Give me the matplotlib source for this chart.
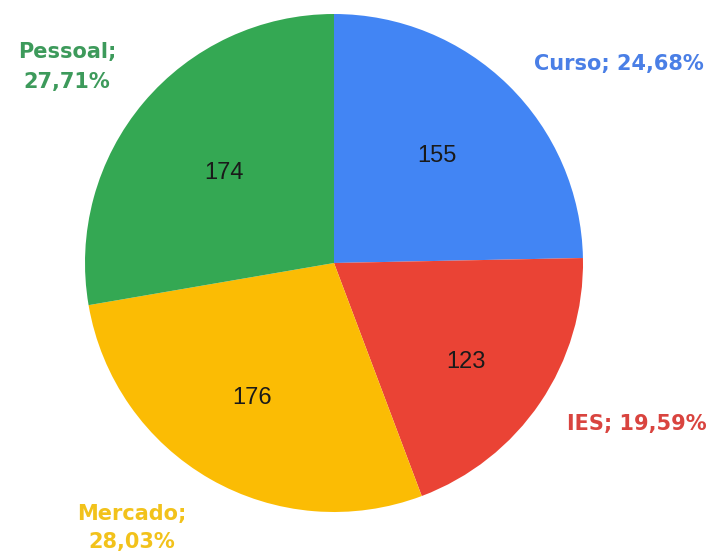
import matplotlib.pyplot as plt

# responses per category
categories = ["Curso", "IES", "Mercado", "Pessoal"]
counts = [155, 123, 176, 174]
percent_labels = ["24,68%", "19,59%", "28,03%", "27,71%"]
slice_colors = ["#4285F4", "#EA4335", "#FBBC04", "#34A853"]
text_colors = ["#4a7fe6", "#d9443f", "#f2c21b", "#3d9a5b"]
# where the count sits inside each slice (pie radius = 1)
count_pos = [(0.414, 0.430), (0.530, -0.398), (-0.329, -0.542), (-0.442, 0.361)]

W, H = 711, 556
fig = plt.figure(figsize=(W / 100, H / 100), dpi=100)

# pie centre and radius in pixels
cx, cy, r = 334, 263, 249
ax = fig.add_axes([(cx - r) / W, (H - cy - r) / H, 2 * r / W, 2 * r / H])

wedges, _ = ax.pie(counts, colors=slice_colors, startangle=90, counterclock=False,
                   wedgeprops=dict(linewidth=0))
for c, (x, y) in zip(counts, count_pos):
    ax.text(x, y, str(c), fontsize=17, color="#1a1a1a", family="Liberation Sans",
            ha="center", va="center")
ax.set_xlim(-1, 1)
ax.set_ylim(-1, 1)
ax.set_aspect("equal")
ax.axis("off")

# outer category labels
lab_style = dict(fontsize=15, fontweight="bold", family="DejaVu Sans")
fig.text(704 / W, 1 - 64 / H, categories[0] + "; " + percent_labels[0],
         color=text_colors[0], ha="right", va="center", **lab_style)
fig.text(707 / W, 1 - 424 / H, categories[1] + "; " + percent_labels[1],
         color=text_colors[1], ha="right", va="center", **lab_style)
fig.text(132 / W, 1 - 528 / H, categories[2] + ";\n" + percent_labels[2],
         color=text_colors[2], ha="center", va="center", linespacing=1.5, **lab_style)
fig.text(67 / W, 1 - 67 / H, categories[3] + ";\n" + percent_labels[3],
         color=text_colors[3], ha="center", va="center", linespacing=1.6, **lab_style)

fig.savefig("out.png", dpi=100, facecolor="white")
